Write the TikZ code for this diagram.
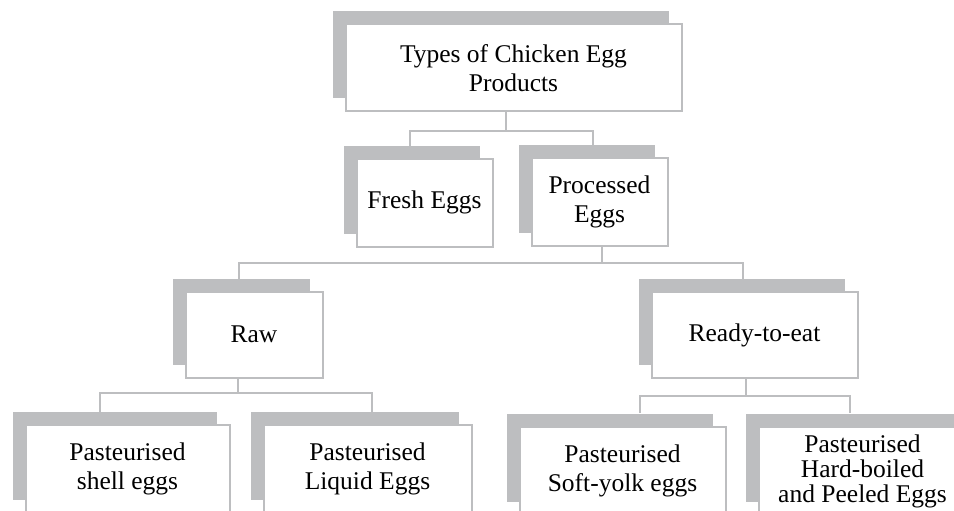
\documentclass[tikz,border=0pt]{standalone}
\usepackage{fontspec}
\setmainfont{Liberation Serif}
\usetikzlibrary{shadows}
\definecolor{shadowgray}{RGB}{189,190,192}
\definecolor{linegray}{RGB}{189,190,192}
\tikzset{
  card/.style={draw=linegray, line width=2pt, fill=white, inner sep=0pt,
    align=center, text=black,
    font=\fontsize{25.5}{29}\selectfont,
    general shadow={fill=shadowgray, shadow xshift=-13pt, shadow yshift=13pt}},
  link/.style={draw=linegray, line width=2pt, line cap=rect}
}
\begin{document}
\begin{tikzpicture}[x=1pt,y=-1pt]
  \useasboundingbox (0,0) rectangle (954,511);
  \clip (0,0) rectangle (954,511);

  % boxes
  \node[card, minimum width=336pt, minimum height=87pt] (top) at (513.5,68)
    {Types of Chicken Egg\\Products};
  \node[card, minimum width=136pt, minimum height=88pt] (fresh) at (424.5,202.5)
    {Fresh Eggs};
  \node[card, minimum width=136pt, minimum height=88pt] (proc) at (599.5,202)
    {Processed\\Eggs};
  \node[card, minimum width=137pt, minimum height=86pt] (raw) at (254,334.5)
    {Raw};
  \node[card, minimum width=206pt, minimum height=86pt] (ready) at (754.5,335)
    {Ready-to-eat};
  \node[card, minimum width=204pt, minimum height=88pt] (shell) at (127.5,469)
    {Pasteurised\\shell eggs};
  \node[card, minimum width=208pt, minimum height=88pt] (liquid) at (367.5,469)
    {Pasteurised\\Liquid Eggs};
  \node[card, minimum width=206pt, minimum height=88pt] (soft) at (622.5,471)
    {Pasteurised\\Soft-yolk eggs};
  \node[card, minimum width=208pt, minimum height=88pt,
        font=\fontsize{25.5}{25}\selectfont] (hard) at (862.5,471)
    {Pasteurised\\Hard-boiled\\and Peeled Eggs};

  % connectors
  \draw[link] ([xshift=-7.5pt]top.south) -- ++(0,18) coordinate (j1);
  \draw[link] (j1) -| ([xshift=-14.5pt,yshift=13pt]fresh.north);
  \draw[link] (j1) -| ([xshift=-6.5pt,yshift=13pt]proc.north);

  \draw[link] ([xshift=2.5pt]proc.south) -- ++(0,16) coordinate (j2);
  \draw[link] (j2) -| ([xshift=-15pt,yshift=13pt]raw.north);
  \draw[link] (j2) -| ([xshift=-11.5pt,yshift=13pt]ready.north);

  \draw[link] ([xshift=-16pt]raw.south) -- ++(0,14) coordinate (j3);
  \draw[link] (j3) -| ([xshift=-27.5pt,yshift=13pt]shell.north);
  \draw[link] (j3) -| ([xshift=4.5pt,yshift=13pt]liquid.north);

  \draw[link] ([xshift=-8.5pt]ready.south) -- ++(0,17) coordinate (j4);
  \draw[link] (j4) -| ([xshift=17.5pt,yshift=14pt]soft.north);
  \draw[link] (j4) -| ([xshift=-12.5pt,yshift=14pt]hard.north);
\end{tikzpicture}
\end{document}
